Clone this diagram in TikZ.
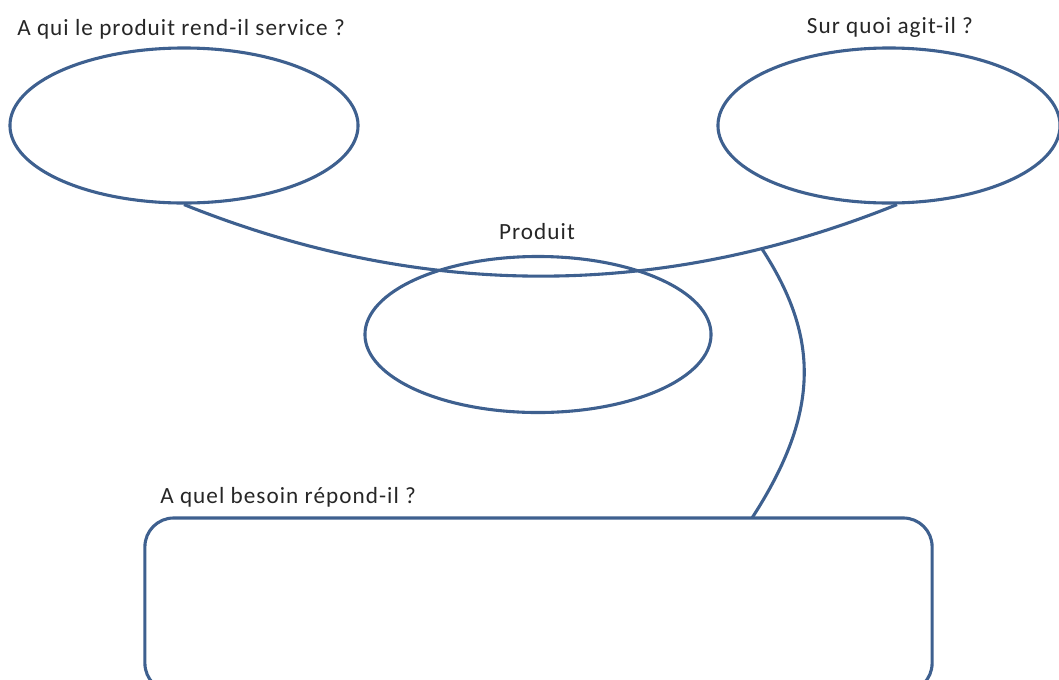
\documentclass[tikz,border=0pt]{standalone}
\usepackage{fontspec}
\setmainfont{Carlito}
\newfontfamily\questionfont[LetterSpace=4.5]{Carlito}
\usetikzlibrary{shapes.geometric,calc}
\definecolor{trait}{RGB}{62,96,143}

\begin{document}
\begin{tikzpicture}[x=0.025cm,y=-0.025cm,
  bulle/.style={ellipse, draw=trait, line width=2.2pt, inner sep=0pt},
  cadre/.style={rectangle, draw=trait, line width=2.2pt, rounded corners=0.72cm, inner sep=0pt},
  lien/.style={draw=trait, line width=2.2pt},
  question/.style={font=\questionfont\fontsize{16.5}{19}\selectfont, text=black!85, inner sep=0pt, anchor=base}]
\useasboundingbox (0,0) rectangle (1059,679);
\clip (0,0) rectangle (1059,679);

% les trois bulles
\node[bulle, minimum width=8.7cm, minimum height=3.875cm] (usager) at (184,125.5) {};
\node[bulle, minimum width=8.55cm, minimum height=3.875cm] (matiere) at (889,125.5) {};
\node[bulle, minimum width=8.65cm, minimum height=3.9cm] (produit) at (538,334.5) {};
\node[cadre, minimum width=19.675cm, minimum height=4.35cm] (besoin) at (538.5,605) {};

% questions
\node[question, anchor=base west] (q1) at (17,35) {A qui le produit rend-il service ?};
\node[question] (q2) at (890,33) {Sur quoi agit-il ?};
\node[question] (q3) at (537,239) {Produit};
\node[question, anchor=base west] (q4) at (160,503) {A quel besoin répond-il ?};

% cornes
\coordinate (pied) at (752,518);
\draw[lien] (usager.south) .. controls (422,300) and (660,300) .. ($(matiere.south)+(8,0)$) coordinate[pos=0.81] (jonction);
\draw[lien] (jonction) .. controls (818,335) and (822,410) .. (pied);

\end{tikzpicture}
\end{document}
